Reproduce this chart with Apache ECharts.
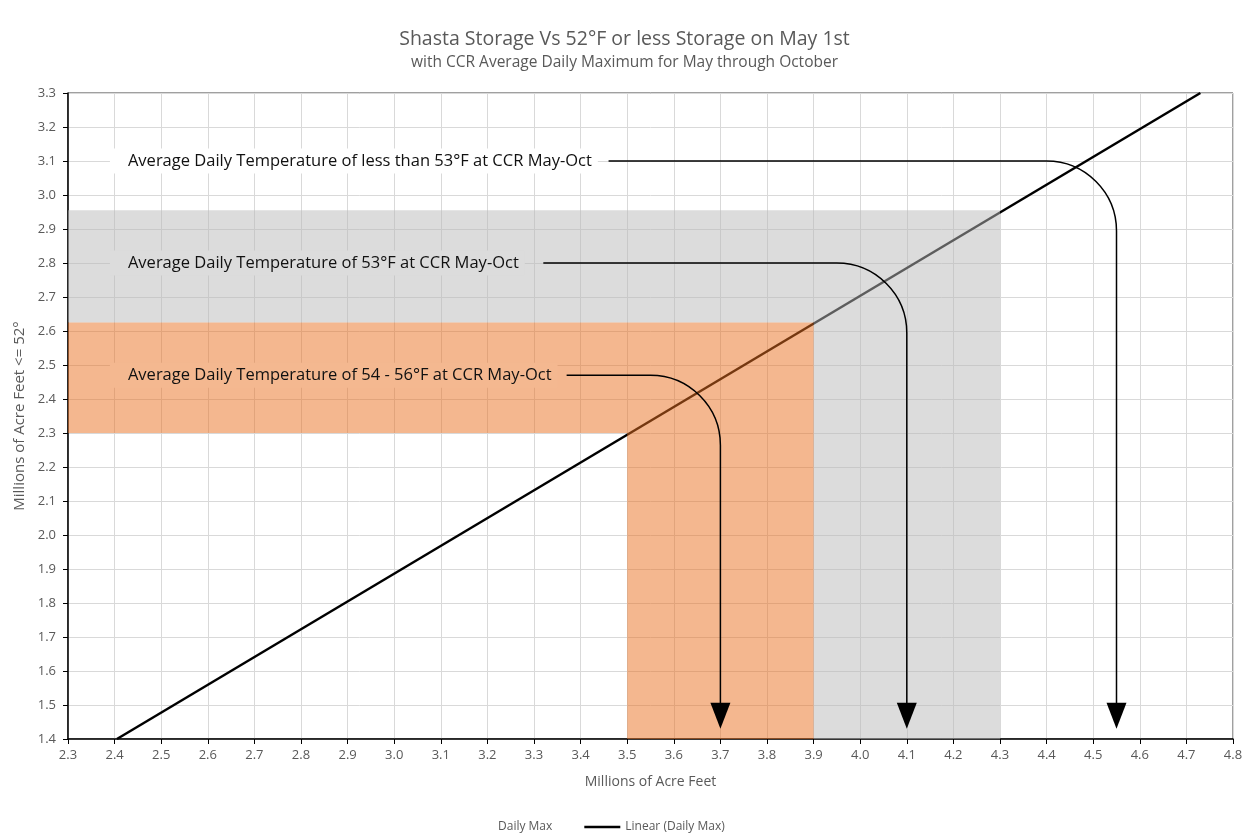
<!DOCTYPE html>
<html>
<head>
<meta charset="utf-8">
<title>Shasta Storage</title>
<script src="https://cdn.jsdelivr.net/npm/echarts@6/dist/echarts.min.js"></script>
<style>
  html, body { margin: 0; padding: 0; background: #fff; }
  #main { width: 1249px; height: 839px; }
</style>
</head>
<body>
<div id="main"></div>
<script>
// trend line (Linear (Daily Max))
const trendX = [2.405, 4.73];
const trendY = [1.4, 3.3];

// shaded areas, corners in axis units
const grayShadeX = [2.3, 4.3, 4.3, 3.9, 3.9, 2.3];
const grayShadeY = [2.955, 2.955, 1.4, 1.4, 2.625, 2.625];
const orangeShadeX = [2.3, 3.9, 3.9, 3.5, 3.5, 2.3];
const orangeShadeY = [2.625, 2.625, 1.4, 1.4, 2.3, 2.3];

// annotations with elbow arrows
const noteLabels = [
  'Average Daily Temperature of less than 53°F at CCR May-Oct',
  'Average Daily Temperature of 53°F at CCR May-Oct',
  'Average Daily Temperature of 54 - 56°F at CCR May-Oct'
];
const noteTextX = [2.39, 2.39, 2.39];
const noteLevelY = [3.1, 2.8, 2.47];
const noteLineStartX = [3.46, 3.32, 3.37];
const noteDropX = [4.55, 4.1, 3.7];
const noteEndY = [1.43, 1.43, 1.43];

// styles
const labelBg = ['#ffffff', '#dcdcdc', '#f4b890'];
const textColor = '#595959';
const font = '"Open Sans", "Noto Sans", sans-serif';

const shades = [
  { x: grayShadeX, y: grayShadeY, color: 'rgba(185,185,185,0.5)' },
  { x: orangeShadeX, y: orangeShadeY, color: 'rgba(233,111,31,0.5)' }
];

const chart = echarts.init(document.getElementById('main'));

const option = {
  animation: false,
  textStyle: { fontFamily: font },
  title: {
    text: 'Shasta Storage Vs 52°F or less Storage on May 1st',
    subtext: 'with CCR Average Daily Maximum for May through October',
    left: 'center',
    top: 24,
    itemGap: 6,
    textStyle: { fontSize: 19.5, fontWeight: 'normal', color: textColor, fontFamily: font },
    subtextStyle: { fontSize: 15.5, color: textColor, fontFamily: font }
  },
  legend: {
    bottom: 1,
    left: 452,
    itemWidth: 36,
    itemHeight: 10,
    itemGap: 32,
    textStyle: { fontSize: 12, color: textColor, fontFamily: font },
    data: [
      { name: 'Daily Max', icon: 'none' },
      { name: 'Linear (Daily Max)', icon: 'path://M0,0 L40,0 L40,3 L0,3 Z', itemStyle: { color: '#000' } }
    ]
  },
  grid: {
    left: 68, right: 16, top: 93, bottom: 100,
    show: true,
    borderColor: '#404040',
    borderWidth: 1
  },
  xAxis: {
    type: 'value',
    min: 2.3, max: 4.8, interval: 0.1,
    name: 'Millions of Acre Feet',
    nameLocation: 'middle',
    nameGap: 36,
    nameTextStyle: { fontSize: 14, color: textColor },
    axisLine: { lineStyle: { color: '#000', width: 1.5 } },
    axisTick: { show: true, length: 5, lineStyle: { color: '#000' } },
    axisLabel: { color: textColor, fontSize: 13, margin: 10, formatter: v => v.toFixed(1) },
    splitLine: { show: true, lineStyle: { color: '#d9d9d9', width: 1 } }
  },
  yAxis: {
    type: 'value',
    min: 1.4, max: 3.3, interval: 0.1,
    name: 'Millions of Acre Feet <= 52°',
    nameLocation: 'middle',
    nameGap: 40,
    nameRotate: 90,
    nameTextStyle: { fontSize: 15, color: textColor },
    axisLine: { show: true, lineStyle: { color: '#000', width: 1.5 } },
    axisTick: { show: true, length: 5, lineStyle: { color: '#000' } },
    axisLabel: { color: textColor, fontSize: 13, margin: 12, formatter: v => v.toFixed(1) },
    splitLine: { show: true, lineStyle: { color: '#d9d9d9', width: 1 } }
  },
  series: [
    {
      name: 'Daily Max',
      type: 'scatter',
      data: [],
      itemStyle: { color: 'rgba(0,0,0,0)' }
    },
    {
      name: 'Linear (Daily Max)',
      type: 'line',
      z: 2,
      symbol: 'none',
      data: trendX.map((x, i) => [x, trendY[i]]),
      lineStyle: { color: '#000', width: 2.5 },
      itemStyle: { color: '#000' }
    },
    {
      type: 'custom',
      z: 3,
      silent: true,
      data: shades.map((s, i) => [i]),
      encode: { x: -1, y: -1 },
      renderItem: function (params, api) {
        const s = shades[params.dataIndex];
        const pts = s.x.map((x, i) => api.coord([x, s.y[i]]));
        return { type: 'polygon', shape: { points: pts }, style: { fill: s.color } };
      }
    },
    {
      type: 'custom',
      z: 4,
      silent: true,
      data: noteLabels.map((t, i) => [noteLineStartX[i], noteLevelY[i], noteDropX[i], noteEndY[i]]),
      renderItem: function (params, api) {
        const i = params.dataIndex;
        const a = api.coord([api.value(0), api.value(1)]);
        const b = api.coord([api.value(2), api.value(1)]);
        const c = api.coord([api.value(2), api.value(3)]);
        const t = api.coord([noteTextX[i], noteLevelY[i]]);
        const r = 70, k = 0.5523, hh = 26, hw = 10;
        const pathData = 'M' + a[0] + ' ' + a[1] +
          ' L' + (b[0] - r) + ' ' + b[1] +
          ' C' + (b[0] - r + k * r) + ' ' + b[1] + ' ' + b[0] + ' ' + (b[1] + r - k * r) + ' ' + b[0] + ' ' + (b[1] + r) +
          ' L' + b[0] + ' ' + (c[1] - hh + 2);
        return {
          type: 'group',
          children: [
            { type: 'path', shape: { pathData: pathData }, style: { stroke: '#000', lineWidth: 1.5, fill: null } },
            { type: 'polygon', shape: { points: [[b[0] - hw, c[1] - hh], [b[0] + hw, c[1] - hh], [b[0], c[1]]] }, style: { fill: '#000' } },
            {
              type: 'text',
              style: {
                text: noteLabels[i],
                x: t[0], y: t[1],
                verticalAlign: 'middle',
                fill: '#111',
                font: '16.5px ' + font,
                backgroundColor: labelBg[i],
                padding: [4, 6, 4, 18]
              }
            }
          ]
        };
      }
    }
  ]
};

chart.setOption(option);
</script>
</body>
</html>
